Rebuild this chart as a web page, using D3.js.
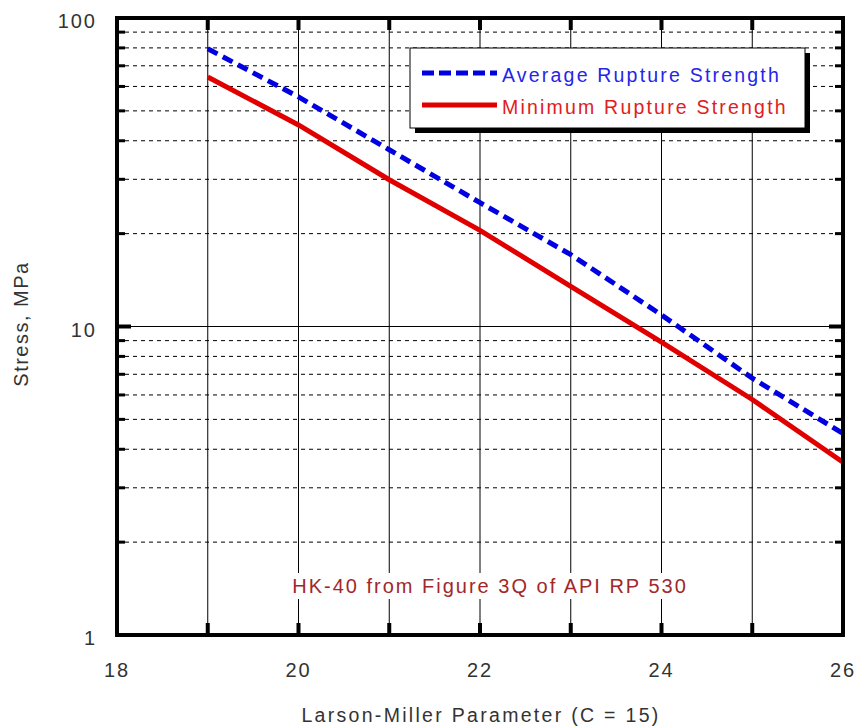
<!DOCTYPE html>
<html>
<head lang="en">
  <title>HK-40 rupture strength</title>
  <script src="https://d3js.org/d3.v7.min.js" charset="utf-8"></script>
  <style>
    body { margin: 0; background: #fff; }
    text { font-family: "Liberation Sans", Arial, sans-serif; }
  </style>
</head>
<body>
  <script>
    // values
    var lmp = [19, 20, 21, 22, 23, 24, 25, 26];
    var avgStrength = [79.5, 55.5, 37.4, 25.2, 17.1, 10.9, 6.8, 4.5];
    var minStrength = [64.4, 45.0, 29.9, 20.5, 13.5, 8.9, 5.8, 3.63];
    var xTicks = [18, 20, 22, 24, 26];
    var yTicks = [1, 10, 100];
    var seriesNames = ["Average Rupture Strength", "Minimum Rupture Strength"];

    var width = 858, height = 728;
    var margin = {left: 117, right: 15, top: 18, bottom: 93};

    var svg = d3.select("body").append("svg")
      .attr("width", width)
      .attr("height", height);

    var x = d3.scaleLinear().domain([18, 26]).range([margin.left, width - margin.right]);
    var y = d3.scaleLog().domain([1, 100]).range([height - margin.bottom, margin.top]);

    var x0 = x.range()[0], x1 = x.range()[1], y0 = y.range()[0], y1 = y.range()[1];

    // minor log values
    var minors = [];
    [1, 10].forEach(function(d) {
      for (var k = 2; k <= 9; k++) minors.push(d * k);
    });

    // horizontal dashed grid
    svg.append("g").selectAll("line")
      .data(minors)
      .enter().append("line")
        .attr("x1", x0).attr("x2", x1)
        .attr("y1", function(d) { return y(d); })
        .attr("y2", function(d) { return y(d); })
        .attr("stroke", "#000")
        .attr("stroke-width", 1)
        .attr("stroke-dasharray", "4,4");

    svg.append("line")
      .attr("x1", x0).attr("x2", x1)
      .attr("y1", y(10)).attr("y2", y(10))
      .attr("stroke", "#000").attr("stroke-width", 1);

    // vertical grid
    svg.append("g").selectAll("line")
      .data(d3.range(19, 26))
      .enter().append("line")
        .attr("x1", function(d) { return x(d); })
        .attr("x2", function(d) { return x(d); })
        .attr("y1", y0).attr("y2", y1)
        .attr("stroke", "#000").attr("stroke-width", 1);

    // ticks on all four sides
    var tickG = svg.append("g").attr("stroke", "#000");
    d3.range(19, 26).forEach(function(d) {
      tickG.append("line").attr("x1", x(d)).attr("x2", x(d))
        .attr("y1", y0).attr("y2", y0 - 12).attr("stroke-width", 4);
      tickG.append("line").attr("x1", x(d)).attr("x2", x(d))
        .attr("y1", y1).attr("y2", y1 + 12).attr("stroke-width", 4);
    });
    minors.forEach(function(d) {
      tickG.append("line").attr("x1", x0).attr("x2", x0 + 8)
        .attr("y1", y(d)).attr("y2", y(d)).attr("stroke-width", 3);
      tickG.append("line").attr("x1", x1).attr("x2", x1 - 8)
        .attr("y1", y(d)).attr("y2", y(d)).attr("stroke-width", 3);
    });
    tickG.append("line").attr("x1", x0).attr("x2", x0 + 14)
      .attr("y1", y(10)).attr("y2", y(10)).attr("stroke-width", 4);
    tickG.append("line").attr("x1", x1).attr("x2", x1 - 14)
      .attr("y1", y(10)).attr("y2", y(10)).attr("stroke-width", 4);

    // annotation with white background
    var note = svg.append("g");
    var noteText = note.append("text")
      .attr("x", 490)
      .attr("y", 593)
      .attr("text-anchor", "middle")
      .attr("font-size", 20)
      .attr("letter-spacing", 2)
      .attr("fill", "#a0282a")
      .text("HK-40 from Figure 3Q of API RP 530");
    var bb = noteText.node().getBBox();
    note.insert("rect", "text")
      .attr("x", bb.x - 4).attr("y", bb.y - 2)
      .attr("width", bb.width + 8).attr("height", bb.height + 4)
      .attr("fill", "#fff");

    // series lines
    var line = d3.line()
      .x(function(d) { return x(d[0]); })
      .y(function(d) { return y(d[1]); });

    svg.append("path")
      .datum(d3.zip(lmp, minStrength))
      .attr("d", line)
      .attr("fill", "none")
      .attr("stroke", "#e00000")
      .attr("stroke-width", 5);

    svg.append("path")
      .datum(d3.zip(lmp, avgStrength))
      .attr("d", line)
      .attr("fill", "none")
      .attr("stroke", "#0000e0")
      .attr("stroke-width", 5)
      .attr("stroke-dasharray", "11,6");

    // frame
    svg.append("rect")
      .attr("x", x0).attr("y", y1)
      .attr("width", x1 - x0).attr("height", y0 - y1)
      .attr("fill", "none")
      .attr("stroke", "#000")
      .attr("stroke-width", 4);

    // legend
    var lg = svg.append("g").attr("transform", "translate(410,48)");
    lg.append("rect").attr("x", 5).attr("y", 5).attr("width", 395).attr("height", 80).attr("fill", "#000");
    lg.append("rect").attr("x", 0).attr("y", 0).attr("width", 395).attr("height", 80)
      .attr("fill", "#fff").attr("stroke", "#000").attr("stroke-width", 1);
    var colors = ["#0000e0", "#e00000"];
    var textColors = ["#2525e8", "#e02020"];
    seriesNames.forEach(function(name, i) {
      var yy = 25 + i * 32;
      lg.append("line").attr("x1", 12).attr("x2", 87)
        .attr("y1", yy).attr("y2", yy)
        .attr("stroke", colors[i]).attr("stroke-width", 5)
        .attr("stroke-dasharray", i === 0 ? "12,5" : null);
      lg.append("text").attr("x", 92).attr("y", yy + 9)
        .attr("font-size", 19.5).attr("letter-spacing", 2.2)
        .attr("fill", textColors[i]).text(name);
    });

    // tick labels
    svg.append("g").selectAll("text")
      .data(xTicks)
      .enter().append("text")
        .attr("x", function(d) { return x(d); })
        .attr("y", 677)
        .attr("text-anchor", "middle")
        .attr("font-size", 20)
        .attr("letter-spacing", 2)
        .attr("fill", "#333")
        .text(function(d) { return d; });

    svg.append("g").selectAll("text")
      .data(yTicks)
      .enter().append("text")
        .attr("x", 97)
        .attr("y", function(d) { return y(d) + 10; })
        .attr("text-anchor", "end")
        .attr("font-size", 20)
        .attr("letter-spacing", 2)
        .attr("fill", "#333")
        .text(function(d) { return d; });

    svg.append("text")
      .attr("x", 481)
      .attr("y", 722)
      .attr("text-anchor", "middle")
      .attr("font-size", 19.5)
      .attr("letter-spacing", 2.3)
      .attr("fill", "#333")
      .text("Larson-Miller Parameter (C = 15)");

    svg.append("text")
      .attr("transform", "translate(28,324) rotate(-90)")
      .attr("text-anchor", "middle")
      .attr("font-size", 20)
      .attr("letter-spacing", 1.5)
      .attr("fill", "#333")
      .text("Stress, MPa");
  </script>
</body>
</html>
